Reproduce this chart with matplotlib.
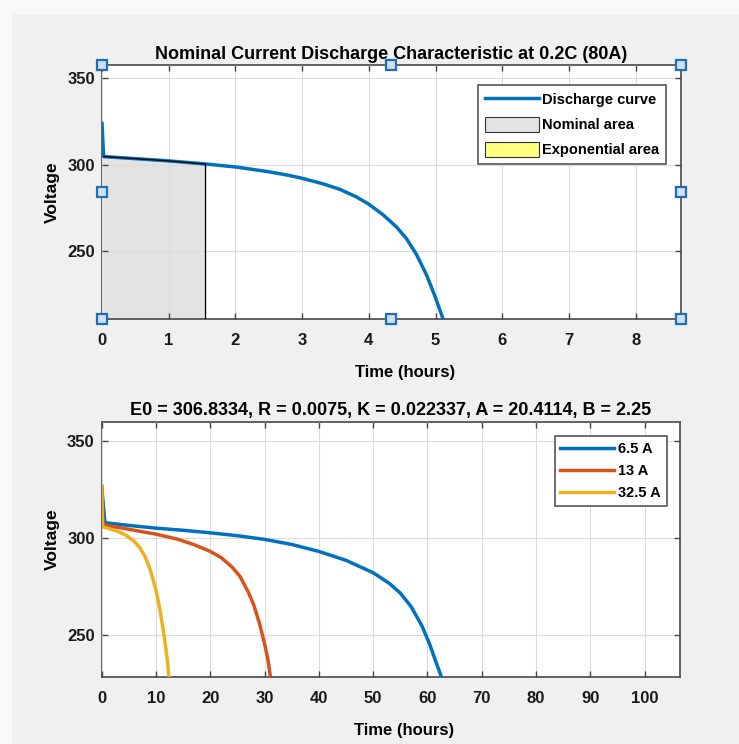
import numpy as np
import matplotlib.pyplot as plt
from matplotlib.patches import Patch, Rectangle
from matplotlib.lines import Line2D

# top panel: nominal discharge at 0.2C (80 A), hours / volts
t_nom = [0, 0.025, 0.5, 1.0, 1.55, 2.0, 2.5, 2.815, 3.0, 3.315, 3.565, 3.815, 4.0,
         4.215, 4.415, 4.565, 4.715, 4.865, 4.99, 5.115]
v_nom = [323.8, 304.6, 303.4, 302.1, 300.3, 298.6, 295.8, 293.6, 292.0, 288.8, 285.6, 281.2, 277.0,
         270.8, 263.8, 257.0, 247.8, 236.0, 223.8, 210.3]
t_nom_end = 1.55  # end of nominal zone

# bottom panel: discharge at other currents
t_65 = [0, 0.6, 5, 10, 15, 20, 25, 30, 35, 40, 45, 50, 53, 55, 57, 59, 60.5, 61.5, 62.6]
v_65 = [326.4, 307.8, 306.4, 305.0, 303.9, 302.6, 301.1, 299.2, 296.6, 293.0, 288.4, 282.0, 276.5,
        271.5, 264.5, 254.5, 244.5, 236.5, 228.1]
t_13 = [0, 0.3, 3, 6, 10, 14, 17, 20, 22, 24, 25.5, 27, 28, 29, 30, 30.6, 31.1]
v_13 = [326.4, 306.6, 305.4, 303.9, 301.9, 299.3, 296.5, 293.0, 289.8, 285.0, 280.0, 272.0, 265.5,
        256.5, 245.4, 237.5, 228.1]
t_325 = [0, 0.15, 1.5, 3, 4.5, 6, 7, 8, 9, 10, 10.7, 11.3, 11.8, 12.1, 12.39]
v_325 = [326.7, 305.7, 304.6, 303.3, 301.3, 298.2, 295.0, 290.3, 283.0, 273.0, 263.5, 253.0, 243.5,
         236.5, 228.1]

labels_bottom = ['6.5 A', '13 A', '32.5 A']
colors = ['#0072BD', '#D95319', '#EDB120']

plt.rcParams['font.family'] = ['Liberation Sans', 'DejaVu Sans']
plt.rcParams['font.weight'] = 'bold'
plt.rcParams['axes.labelweight'] = 'bold'

fig = plt.figure(figsize=(7.39, 7.44), dpi=100, facecolor='#f0f0f0')
# whitish strips of the screenshot edge
fig.add_artist(Rectangle((0, 1 - 13 / 744), 1, 13 / 744, transform=fig.transFigure, color='#f8f8f8', zorder=0))
fig.add_artist(Rectangle((0, 0), 11 / 739, 1, transform=fig.transFigure, color='#f8f8f8', zorder=0))

ax1 = fig.add_axes([0.138, 0.571, 0.7835, 0.3416])
ax2 = fig.add_axes([0.1376, 0.0905, 0.7824, 0.3427])


def style(ax):
    ax.grid(True, color='#dcdcdc', lw=0.8)
    ax.set_axisbelow(False)
    for s in ax.spines.values():
        s.set_color('#555555')
        s.set_linewidth(1.3)
    ax.tick_params(direction='in', top=True, right=True, length=4, width=1,
                   color='#444444', labelsize=12, labelcolor='#1a1a1a')
    ax.tick_params(axis='x', pad=10)
    ax.tick_params(axis='y', pad=5)


# ---- top
style(ax1)
ax1.plot(t_nom, v_nom, color=colors[0], lw=2.5, zorder=3)
i_end = t_nom.index(t_nom_end)
ax1.fill_between(t_nom[1:i_end + 1], v_nom[1:i_end + 1], 200, color='#e3e3e3', zorder=2)
ax1.plot(t_nom[1:i_end + 1], v_nom[1:i_end + 1], color='black', lw=0.9, zorder=4)
ax1.plot([t_nom_end, t_nom_end], [200, v_nom[i_end]], color='black', lw=0.9, zorder=4)
ax1.set_xlim(0, 8.68)
ax1.set_ylim(210.3, 357.7)
ax1.set_xticks(range(0, 9))
ax1.set_yticks([250, 300, 350])
ax1.set_title('Nominal Current Discharge Characteristic at 0.2C (80A)', fontsize=13,
              fontweight='bold', pad=4)
ax1.set_xlabel('Time (hours)', fontsize=12)
ax1.set_ylabel('Voltage', fontsize=12.5)
ax1.xaxis.set_label_coords(0.523, -0.18)
ax1.yaxis.set_label_coords(-0.073, 0.5)

h = [Line2D([], [], color=colors[0], lw=2.5),
     Patch(facecolor='#e3e3e3', edgecolor='#333333', lw=0.8),
     Patch(facecolor='#ffff80', edgecolor='#333333', lw=0.8)]
leg = ax1.legend(h, ['Discharge curve', 'Nominal area', 'Exponential area'], loc='upper right',
                 bbox_to_anchor=(0.974, 0.921), borderaxespad=0, fancybox=False, framealpha=1,
                 edgecolor='#555555', handlelength=3.7, handleheight=1.3, handletextpad=0.25,
                 borderpad=0.45, labelspacing=0.62, prop={'weight': 'bold', 'size': 10.5})
leg.get_frame().set_linewidth(1.2)

# selection handles of the edit mode
hx = [0, 0.5, 1, 0, 1, 0, 0.5, 1]
hy = [0, 0, 0, 0.5, 0.5, 1, 1, 1]
ax1.plot(hx, hy, 's', transform=ax1.transAxes, clip_on=False, ms=7.5,
         mfc='#cfe1f3', mec='#1f6fb5', mew=1.6, zorder=10)

# ---- bottom
style(ax2)
for t, v, c, lab in zip([t_65, t_13, t_325], [v_65, v_13, v_325], colors, labels_bottom):
    ax2.plot(t, v, color=c, lw=2.5, label=lab, zorder=3)
ax2.set_xlim(0, 106.5)
ax2.set_ylim(228.4, 359.9)
ax2.set_xticks(range(0, 101, 10))
ax2.set_yticks([250, 300, 350])
ax2.set_title('E0 = 306.8334, R = 0.0075, K = 0.022337, A = 20.4114, B = 2.25', fontsize=13,
              fontweight='bold', pad=5)
ax2.set_xlabel('Time (hours)', fontsize=12)
ax2.set_ylabel('Voltage', fontsize=12.5)
ax2.xaxis.set_label_coords(0.523, -0.18)
ax2.yaxis.set_label_coords(-0.073, 0.54)
leg2 = ax2.legend(loc='upper right', bbox_to_anchor=(0.977, 0.944), borderaxespad=0, fancybox=False,
                  framealpha=1, edgecolor='#555555', handlelength=3.7, handletextpad=0.25,
                  borderpad=0.4, labelspacing=0.55, prop={'weight': 'bold', 'size': 10.5})
leg2.get_frame().set_linewidth(1.2)

fig.savefig('out.png', dpi=100, facecolor=fig.get_facecolor())
